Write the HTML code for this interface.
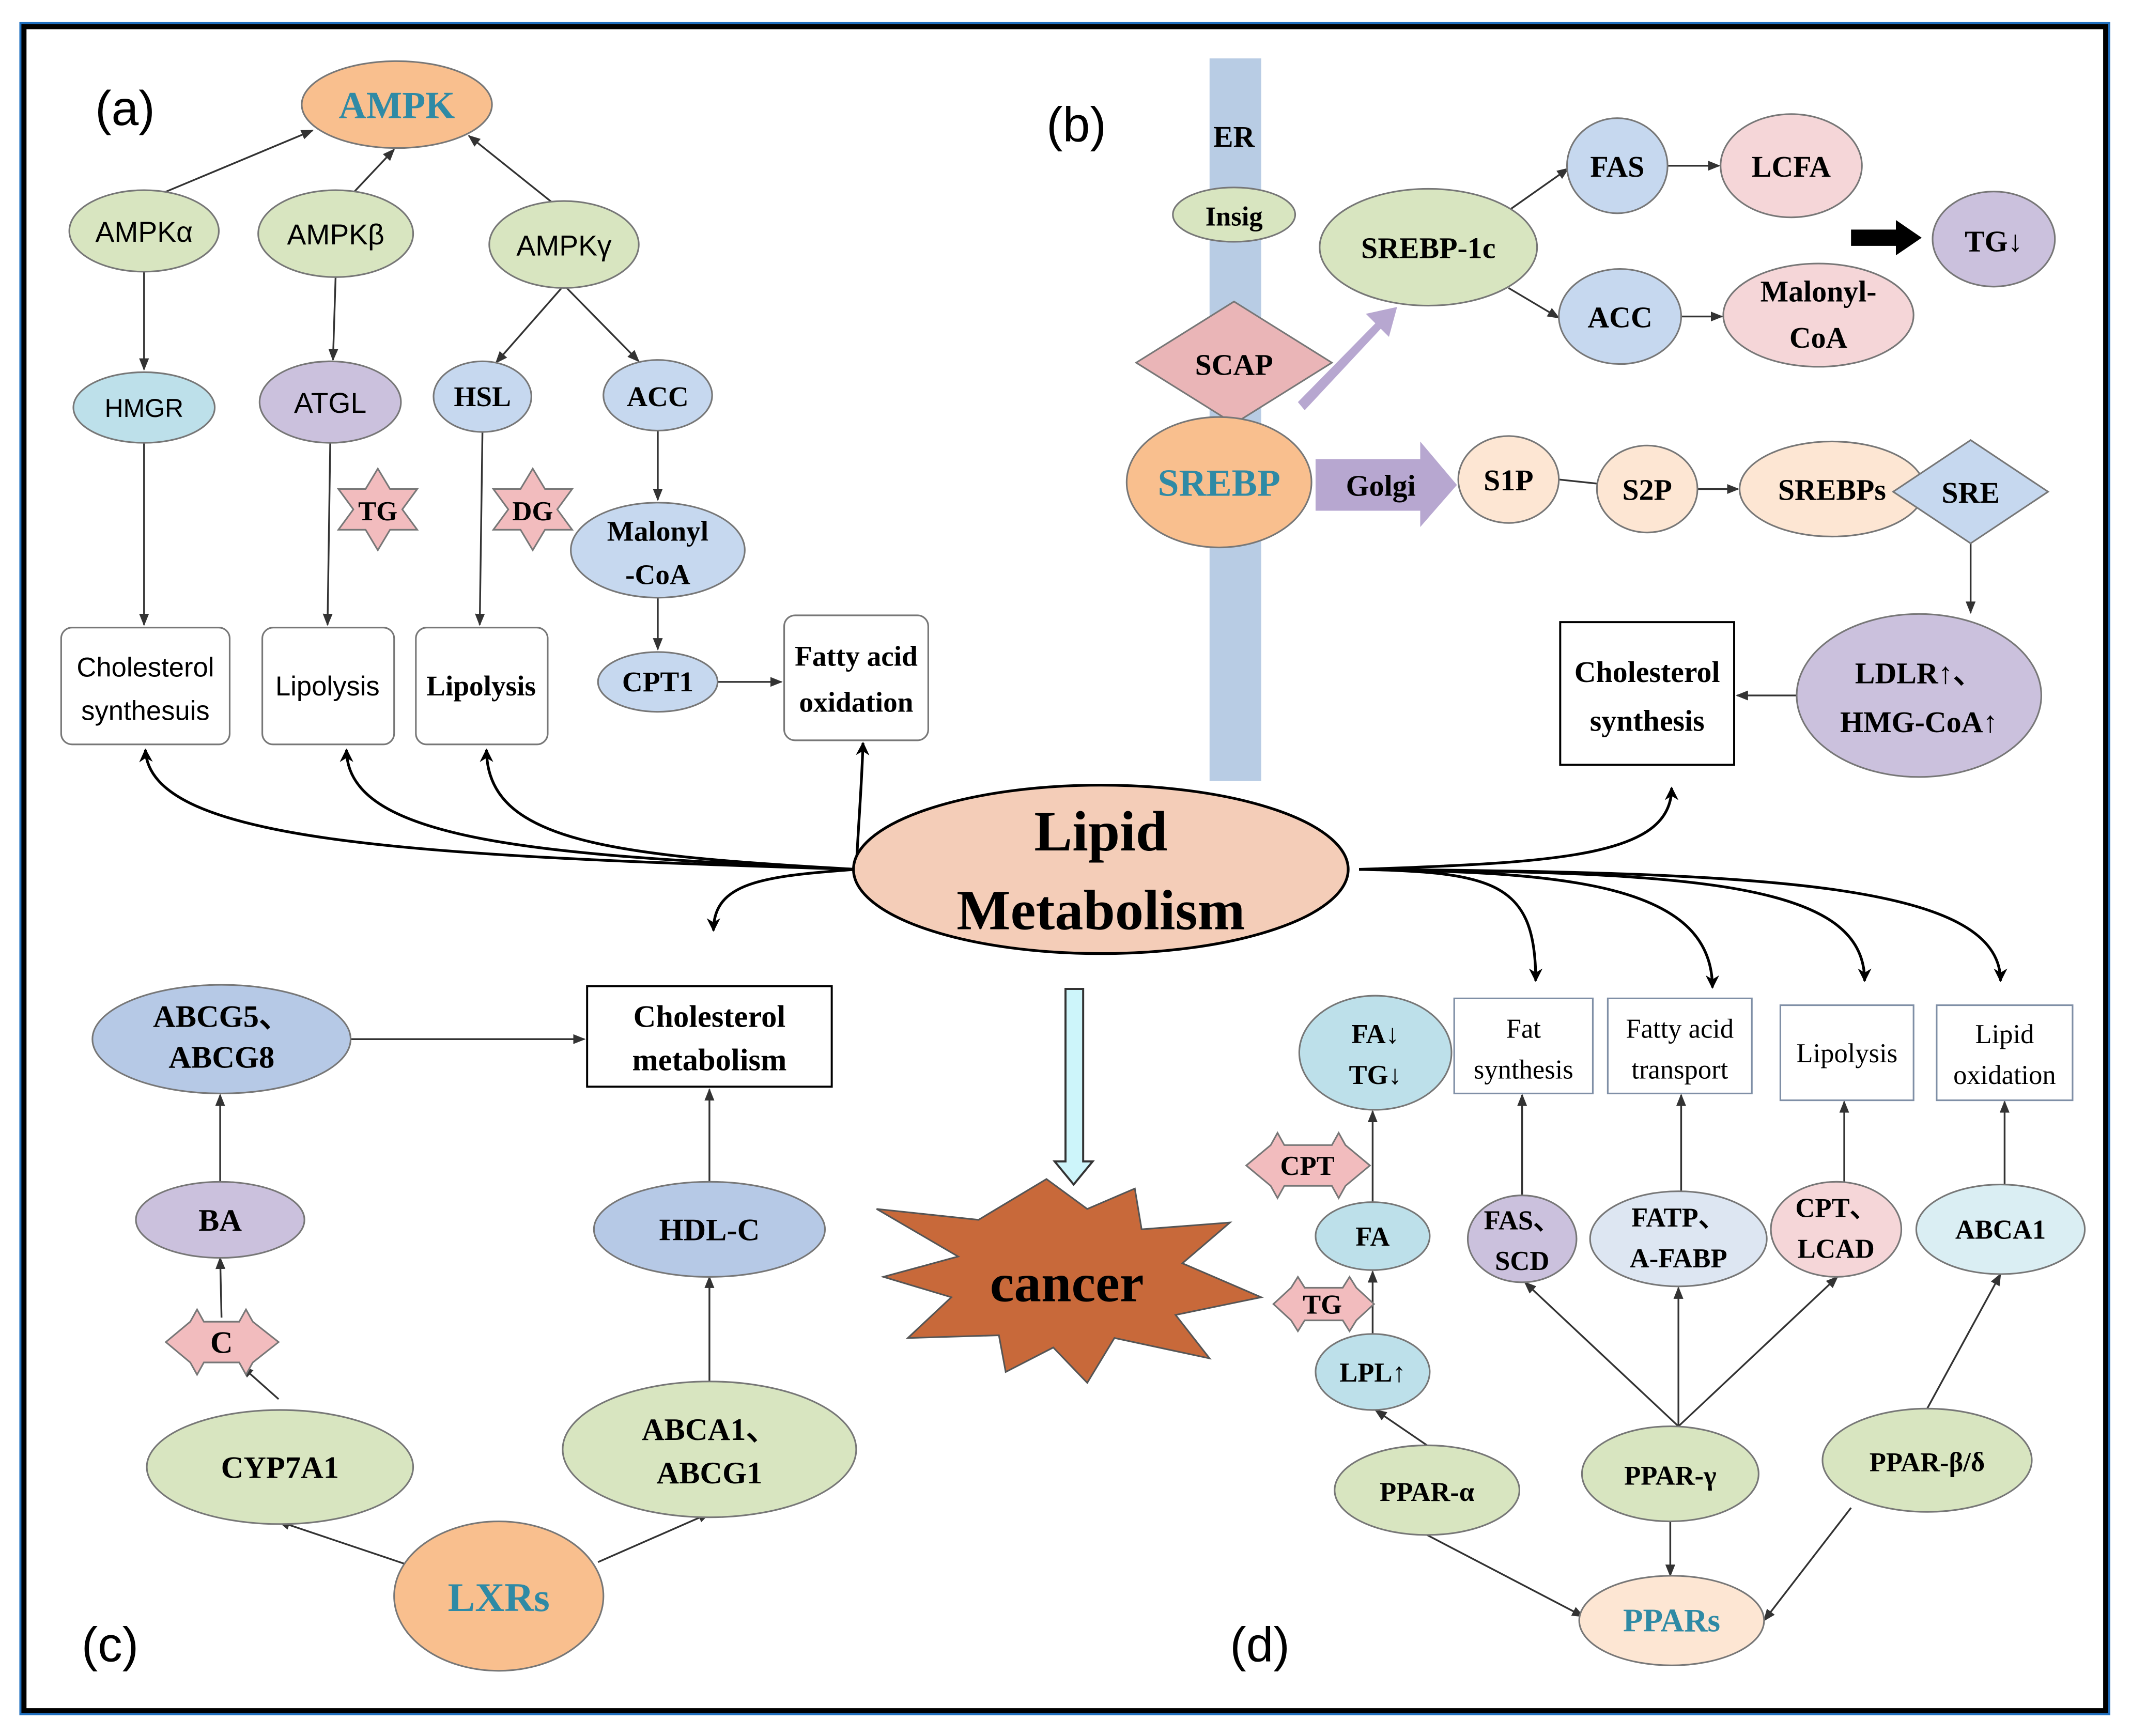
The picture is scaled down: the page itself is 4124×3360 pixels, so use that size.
<!DOCTYPE html>
<html><head><meta charset="utf-8"><style>
html,body{margin:0;padding:0;background:#fff}
svg{display:block}
.s{font-family:"Liberation Sans",sans-serif}
.r{font-family:"Liberation Serif",serif;font-weight:bold}
</style></head><body>
<svg width="4124" height="3360" viewBox="0 0 1568 1278" preserveAspectRatio="none" xmlns="http://www.w3.org/2000/svg">
<defs>
<marker id="a" viewBox="0 0 10 10" refX="9" refY="5" markerWidth="7" markerHeight="7" orient="auto-start-reverse"><path d="M0,1 L10,5 L0,9 z" fill="#333"/></marker>
<marker id="b" viewBox="0 0 10 10" refX="9" refY="5" markerWidth="5" markerHeight="5" orient="auto"><path d="M0,0 L10,5 L0,10 L3,5 z" fill="#000"/></marker>
</defs>
<rect x="0" y="0" width="1568" height="1278" fill="#fff"/>
<rect x="17" y="19" width="1533" height="1241" fill="none" stroke="#000" stroke-width="5"/>
<rect x="15" y="17" width="1537" height="1245" fill="none" stroke="#1f6fbf" stroke-width="1.5"/>

<g stroke="#333" stroke-width="1.3" fill="none" marker-end="url(#a)">
<line x1="120" y1="142" x2="230" y2="96"/>
<line x1="258" y1="144" x2="290" y2="110"/>
<line x1="410" y1="152" x2="345" y2="100"/>
<line x1="106" y1="200" x2="106" y2="272"/>
<line x1="247" y1="202" x2="245" y2="265"/>
<line x1="415" y1="210" x2="365" y2="267"/>
<line x1="415" y1="210" x2="470" y2="266"/>
<line x1="106" y1="326" x2="106" y2="460"/>
<line x1="243" y1="326" x2="241" y2="460"/>
<line x1="355" y1="317" x2="353" y2="460"/>
<line x1="484" y1="316" x2="484" y2="368"/>
<line x1="484" y1="440" x2="484" y2="478"/>
<line x1="528" y1="502" x2="575" y2="502"/>
<line x1="1110" y1="155" x2="1154" y2="124"/>
<line x1="1110" y1="212" x2="1147" y2="234"/>
<line x1="1227" y1="122" x2="1265" y2="122"/>
<line x1="1237" y1="233" x2="1267" y2="233"/>
<line x1="1249" y1="360" x2="1279" y2="360"/>
<line x1="1450" y1="400" x2="1450" y2="451"/>
<line x1="1322" y1="512" x2="1278" y2="512"/>
<line x1="258" y1="765" x2="430" y2="765"/>
<line x1="522" y1="870" x2="522" y2="802"/>
<line x1="162" y1="870" x2="162" y2="806"/>
<line x1="163" y1="970" x2="162" y2="926"/>
<line x1="205" y1="1030" x2="178" y2="1006"/>
<line x1="300" y1="1152" x2="205" y2="1120"/>
<line x1="440" y1="1150" x2="522" y2="1114"/>
<line x1="522" y1="1017" x2="522" y2="940"/>
<line x1="1010" y1="982" x2="1010" y2="936"/>
<line x1="1010" y1="885" x2="1010" y2="818"/>
<line x1="1050" y1="1064" x2="1012" y2="1038"/>
<line x1="1235" y1="1050" x2="1122" y2="944"/>
<line x1="1235" y1="1050" x2="1235" y2="948"/>
<line x1="1235" y1="1050" x2="1352" y2="940"/>
<line x1="1418" y1="1037" x2="1472" y2="938"/>
<line x1="1050" y1="1130" x2="1165" y2="1190"/>
<line x1="1229" y1="1120" x2="1229" y2="1160"/>
<line x1="1362" y1="1110" x2="1298" y2="1193"/>
<line x1="1120" y1="880" x2="1120" y2="806"/>
<line x1="1237" y1="877" x2="1237" y2="806"/>
<line x1="1357" y1="870" x2="1357" y2="811"/>
<line x1="1475" y1="872" x2="1475" y2="811"/>
</g>
<line x1="1147" y1="353" x2="1175" y2="356" stroke="#333" stroke-width="1.3"/>

<!-- Curves from Lipid Metabolism -->
<g stroke="#000" stroke-width="2" fill="none" marker-end="url(#b)">
<path d="M630,640 C300,630 110,620 107,552"/>
<path d="M630,640 C400,630 255,620 255,552"/>
<path d="M630,640 C450,630 358,620 358,552"/>
<path d="M630,640 C632,600 634,580 635,547"/>
<path d="M630,640 C560,645 525,650 525,685"/>
<path d="M1000,640 C1150,635 1230,630 1230,580"/>
<path d="M1000,640 C1100,642 1130,650 1130,722"/>
<path d="M1000,640 C1150,642 1260,650 1260,727"/>
<path d="M1000,640 C1250,642 1372,650 1372,722"/>
<path d="M1000,640 C1300,642 1472,650 1472,722"/>
</g>

<!-- ER bar -->
<rect x="890" y="43" width="38" height="532" fill="#b8cce4"/>
<text x="908" y="108" class="r" font-size="22" text-anchor="middle" font-weight="normal">ER</text>

<!-- purple arrows -->
<path d="M955,296 L1012,238 L1005,231 L1028,226 L1022,248 L1016,242 L960,302 z" fill="#b7a7d0"/>
<path d="M968,338 L1045,338 L1045,325 L1072,357 L1045,388 L1045,376 L968,376 z" fill="#b7a7d0"/>
<text x="1016" y="365" class="r" font-size="22" text-anchor="middle">Golgi</text>
<path d="M1362,169 L1395,169 L1395,162 L1414,175 L1395,188 L1395,181 L1362,181 z" fill="#000"/>

<!-- cyan down arrow -->
<path d="M784,728 L797,728 L797,855 L804,855 L790,872 L776,855 L784,855 z" fill="#cdf5fa" stroke="#333" stroke-width="1.5"/>

<g stroke="#777" stroke-width="1.2">
<!-- (a) -->
<ellipse cx="292" cy="77" rx="70" ry="32" fill="#f9bf8e"/>
<ellipse cx="106" cy="170" rx="55" ry="30" fill="#d8e5c0"/>
<ellipse cx="247" cy="172" rx="57" ry="32" fill="#d8e5c0"/>
<ellipse cx="415" cy="180" rx="55" ry="32" fill="#d8e5c0"/>
<ellipse cx="106" cy="300" rx="52" ry="26" fill="#bde0ea"/>
<ellipse cx="243" cy="296" rx="52" ry="30" fill="#cbc1dd"/>
<ellipse cx="355" cy="292" rx="36" ry="26" fill="#c6d8ef"/>
<ellipse cx="484" cy="291" rx="40" ry="26" fill="#c6d8ef"/>
<ellipse cx="484" cy="405" rx="64" ry="35" fill="#c6d8ef"/>
<ellipse cx="484" cy="502" rx="44" ry="22" fill="#c6d8ef"/>
<rect x="45" y="462" width="124" height="86" rx="8" fill="#fff"/>
<rect x="193" y="462" width="97" height="86" rx="8" fill="#fff"/>
<rect x="306" y="462" width="97" height="86" rx="8" fill="#fff"/>
<rect x="577" y="453" width="106" height="92" rx="8" fill="#fff"/>
<!-- (b) -->
<ellipse cx="908" cy="158" rx="45" ry="20" fill="#d8e5c0"/>
<polygon points="836,267 908,222 980,267 908,312" fill="#eab5b7"/>
<ellipse cx="897" cy="355" rx="68" ry="48" fill="#f9bf8e"/>
<ellipse cx="1110" cy="353" rx="37" ry="32" fill="#fde6d3"/>
<ellipse cx="1212" cy="360" rx="37" ry="32" fill="#fde6d3"/>
<ellipse cx="1348" cy="360" rx="68" ry="35" fill="#fde6d3"/>
<polygon points="1393,362 1450,324 1507,362 1450,400" fill="#c6d8ef"/>
<ellipse cx="1412" cy="512" rx="90" ry="60" fill="#cbc1dd"/>
<ellipse cx="1051" cy="182" rx="80" ry="43" fill="#d8e5c0"/>
<ellipse cx="1190" cy="122" rx="37" ry="35" fill="#c6d8ef"/>
<ellipse cx="1318" cy="122" rx="52" ry="38" fill="#f5d6d8"/>
<ellipse cx="1192" cy="233" rx="45" ry="35" fill="#c6d8ef"/>
<ellipse cx="1338" cy="232" rx="70" ry="38" fill="#f5d6d8"/>
<ellipse cx="1467" cy="176" rx="45" ry="35" fill="#cbc1dd"/>
<!-- (c) -->
<ellipse cx="163" cy="765" rx="95" ry="40" fill="#b6c9e6"/>
<ellipse cx="522" cy="905" rx="85" ry="35" fill="#b6c9e6"/>
<ellipse cx="162" cy="898" rx="62" ry="28" fill="#cbc1dd"/>
<ellipse cx="206" cy="1080" rx="98" ry="42" fill="#d8e5c0"/>
<ellipse cx="522" cy="1067" rx="108" ry="50" fill="#d8e5c0"/>
<ellipse cx="367" cy="1175" rx="77" ry="55" fill="#f9bf8e"/>
<!-- (d) -->
<ellipse cx="1012" cy="775" rx="56" ry="42" fill="#bde0ea"/>
<ellipse cx="1010" cy="910" rx="42" ry="25" fill="#bde0ea"/>
<ellipse cx="1010" cy="1010" rx="42" ry="28" fill="#bde0ea"/>
<ellipse cx="1120" cy="912" rx="40" ry="32" fill="#cbc1dd"/>
<ellipse cx="1235" cy="912" rx="65" ry="35" fill="#dde6f2"/>
<ellipse cx="1351" cy="905" rx="48" ry="35" fill="#f5d6d8"/>
<ellipse cx="1472" cy="905" rx="62" ry="33" fill="#daeef3"/>
<ellipse cx="1050" cy="1097" rx="68" ry="33" fill="#d8e5c0"/>
<ellipse cx="1229" cy="1085" rx="65" ry="35" fill="#d8e5c0"/>
<ellipse cx="1418" cy="1075" rx="77" ry="38" fill="#d8e5c0"/>
<ellipse cx="1230" cy="1193" rx="68" ry="33" fill="#fde6d3"/>
<rect x="1070" y="735" width="102" height="70" fill="#fff" stroke="#7f8fa6"/>
<rect x="1183" y="735" width="106" height="70" fill="#fff" stroke="#7f8fa6"/>
<rect x="1310" y="740" width="98" height="70" fill="#fff" stroke="#7f8fa6"/>
<rect x="1425" y="740" width="100" height="70" fill="#fff" stroke="#7f8fa6"/>
<!-- stars -->
<polygon points="278,345 287,360 307,360 296,375 307,390 287,390 278,405 269,390 249,390 260,375 249,360 269,360" fill="#f2bcbe"/>
<polygon points="392,345 401,360 421,360 410,375 421,390 401,390 392,405 383,390 363,390 374,375 363,360 383,360" fill="#f2bcbe"/>
<polygon points="122,988 140,973 145,964 150,973 176,973 181,964 186,973 205,988 186,1003 181,1012 176,1003 150,1003 145,1012 140,1003" fill="#f2bcbe"/>
<polygon points="917,858 935,843 940,834 945,843 980,843 985,834 990,843 1008,858 990,873 985,882 980,873 945,873 940,882 935,873" fill="#f2bcbe"/>
<polygon points="937,960 950,948 955,940 960,948 988,948 993,940 998,948 1011,960 998,972 993,980 988,972 960,972 955,980 950,972" fill="#f2bcbe"/>
</g>
<rect x="1148" y="458" width="128" height="105" fill="#fff" stroke="#000" stroke-width="1.5"/>
<rect x="432" y="726" width="180" height="74" fill="#fff" stroke="#000" stroke-width="1.5"/>

<!-- Lipid Metabolism -->
<ellipse cx="810" cy="640" rx="182" ry="62" fill="#f4cdb8" stroke="#000" stroke-width="2"/>
<text x="810" y="626" class="r" font-size="42" text-anchor="middle">Lipid</text>
<text x="810" y="684" class="r" font-size="42" text-anchor="middle">Metabolism</text>

<!-- cancer -->
<polygon points="645,890 720,898 770,868 800,890 835,875 840,905 905,900 870,930 928,955 865,968 890,1000 820,985 800,1018 775,992 740,1010 735,983 668,985 700,955 650,940 705,925" fill="#c8693a" stroke="#555" stroke-width="1.2"/>
<text x="785" y="958" class="r" font-size="40" text-anchor="middle">cancer</text>

<!-- texts (a) -->
<g class="s" font-size="21" text-anchor="middle" fill="#000">
<text x="70" y="92" font-size="36" text-anchor="start">(a)</text>
<text x="770" y="104" font-size="36" text-anchor="start">(b)</text>
<text x="60" y="1223" font-size="36" text-anchor="start">(c)</text>
<text x="905" y="1223" font-size="36" text-anchor="start">(d)</text>
<text x="106" y="178">AMPKα</text>
<text x="247" y="180">AMPKβ</text>
<text x="415" y="188">AMPKγ</text>
<text x="106" y="307" font-size="19">HMGR</text>
<text x="243" y="304">ATGL</text>
<text x="107" y="498" font-size="20">Cholesterol</text>
<text x="107" y="530" font-size="20">synthesuis</text>
<text x="241" y="512" font-size="20">Lipolysis</text>
</g>
<g class="r" font-size="21" text-anchor="middle" fill="#000" font-weight="normal">
<text x="292" y="87" font-size="28" fill="#2f8aa5">AMPK</text>
<text x="355" y="299">HSL</text>
<text x="484" y="299">ACC</text>
<text x="484" y="398">Malonyl</text>
<text x="484" y="430">-CoA</text>
<text x="484" y="509">CPT1</text>
<text x="278" y="383" font-size="20">TG</text>
<text x="392" y="383" font-size="20">DG</text>
<text x="354" y="512">Lipolysis</text>
<text x="630" y="490">Fatty acid</text>
<text x="630" y="524">oxidation</text>
</g>
<!-- (b) texts -->
<g class="r" font-size="22" text-anchor="middle" fill="#000">
<text x="908" y="166" font-size="20">Insig</text>
<text x="908" y="276">SCAP</text>
<text x="897" y="365" font-size="28" fill="#2f8aa5">SREBP</text>
<text x="1110" y="361">S1P</text>
<text x="1212" y="368">S2P</text>
<text x="1348" y="368">SREBPs</text>
<text x="1450" y="370">SRE</text>
<text x="1412" y="503">LDLR↑、</text>
<text x="1412" y="539">HMG-CoA↑</text>
<text x="1212" y="502">Cholesterol</text>
<text x="1212" y="538">synthesis</text>
<text x="1051" y="190">SREBP-1c</text>
<text x="1190" y="130">FAS</text>
<text x="1318" y="130">LCFA</text>
<text x="1192" y="241">ACC</text>
<text x="1338" y="222">Malonyl-</text>
<text x="1338" y="256">CoA</text>
<text x="1467" y="185">TG↓</text>
</g>
<!-- (c) texts -->
<g class="r" font-size="23" text-anchor="middle" fill="#000">
<text x="163" y="756">ABCG5、</text>
<text x="163" y="786">ABCG8</text>
<text x="522" y="756">Cholesterol</text>
<text x="522" y="788">metabolism</text>
<text x="522" y="913">HDL-C</text>
<text x="162" y="906">BA</text>
<text x="163" y="996">C</text>
<text x="206" y="1088">CYP7A1</text>
<text x="522" y="1060">ABCA1、</text>
<text x="522" y="1092">ABCG1</text>
<text x="367" y="1186" font-size="30" fill="#2f8aa5">LXRs</text>
</g>
<!-- (d) texts -->
<g class="r" font-size="20" text-anchor="middle" fill="#000">
<text x="1012" y="768">FA↓</text>
<text x="1012" y="798">TG↓</text>
<text x="962" y="865">CPT</text>
<text x="1010" y="917">FA</text>
<text x="973" y="967">TG</text>
<text x="1010" y="1017">LPL↑</text>
<text x="1120" y="905">FAS、</text>
<text x="1120" y="935">SCD</text>
<text x="1235" y="903">FATP、</text>
<text x="1235" y="933">A-FABP</text>
<text x="1351" y="896">CPT、</text>
<text x="1351" y="926">LCAD</text>
<text x="1472" y="912">ABCA1</text>
<text x="1050" y="1105">PPAR-α</text>
<text x="1229" y="1093">PPAR-γ</text>
<text x="1418" y="1083">PPAR-β/δ</text>
<text x="1230" y="1201" font-size="24" fill="#2f8aa5">PPARs</text>
<text x="1121" y="764" font-weight="normal">Fat</text>
<text x="1121" y="794" font-weight="normal">synthesis</text>
<text x="1236" y="764" font-weight="normal">Fatty acid</text>
<text x="1236" y="794" font-weight="normal">transport</text>
<text x="1359" y="782" font-weight="normal">Lipolysis</text>
<text x="1475" y="768" font-weight="normal">Lipid</text>
<text x="1475" y="798" font-weight="normal">oxidation</text>
</g>
</svg>
</body></html>
